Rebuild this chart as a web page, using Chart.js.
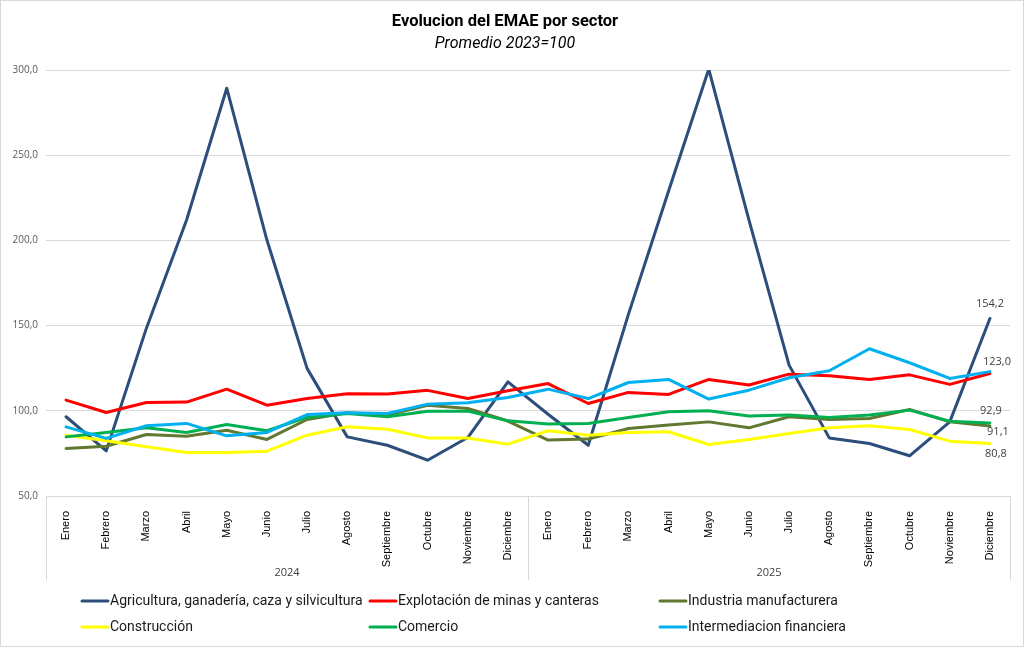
<!DOCTYPE html>
<html lang="es">
<head>
<meta charset="UTF-8">
<title>Evolucion del EMAE por sector</title>
<style>
  html, body { margin: 0; padding: 0; background: #fff; }
  #wrap { width: 1024px; height: 647px; }
</style>
</head>
<body>
<div id="wrap"><canvas id="chart" width="1024" height="647"></canvas></div>

<script src="https://cdn.jsdelivr.net/npm/chart.js"></script>
<script>
// categorias
const meses = ['Enero', 'Febrero', 'Marzo', 'Abril', 'Mayo', 'Junio', 'Julio',
  'Agosto', 'Septiembre', 'Octubre', 'Noviembre', 'Diciembre'];
const anios = ['2024', '2025'];

// series (ene-2024 .. dic-2025)
const agricultura = [96.5, 76.5, 148.5, 212.0, 289.3, 200.2, 124.9, 84.7, 79.8, 71.0, 84.3, 117.0,
  98.0, 79.8, 156.6, 229.0, 300.5, 212.0, 126.8, 84.1, 80.8, 73.6, 93.5, 154.2];
const minas = [106.3, 99.0, 104.9, 105.1, 112.7, 103.3, 107.2, 110.0, 109.8, 112.0, 107.2, 111.8,
  116.0, 104.3, 110.8, 109.6, 118.4, 115.1, 121.5, 120.6, 118.4, 121.1, 115.5, 121.9];
const industria = [77.9, 79.2, 86.1, 85.1, 88.6, 83.2, 94.9, 98.8, 97.5, 103.3, 101.4, 94.0,
  82.8, 83.4, 89.6, 91.6, 93.5, 90.0, 96.5, 94.9, 95.5, 100.8, 93.5, 91.1];
const construccion = [85.7, 82.4, 78.9, 75.5, 75.5, 76.3, 85.7, 90.6, 89.2, 84.1, 84.1, 80.4,
  88.3, 85.7, 87.3, 87.7, 80.2, 83.2, 86.7, 90.0, 91.2, 89.0, 82.2, 80.8];
const comercio = [84.7, 87.3, 90.0, 87.3, 92.0, 88.3, 96.1, 98.4, 96.5, 99.8, 99.8, 94.1,
  92.2, 92.6, 96.1, 99.4, 100.0, 96.9, 97.5, 96.1, 97.5, 100.4, 93.9, 92.9];
const intermediacion = [90.6, 83.8, 91.2, 92.6, 85.3, 87.3, 97.8, 98.8, 98.4, 103.9, 104.7, 107.8,
  112.7, 107.2, 116.6, 118.4, 106.9, 112.1, 119.4, 123.5, 136.4, 128.2, 119.0, 123.0];

// eje y
const yMin = 50, yMax = 300, yPaso = 50;

const etiquetas = anios.flatMap(() => meses);
const fmt = v => v.toFixed(1).replace('.', ',');

// etiqueta del ultimo punto: desplazamiento en px (null = sin etiqueta)
function serie(label, data, color, fin) {
  return {
    label: label, data: data, borderColor: color, backgroundColor: color,
    borderWidth: 3, pointRadius: 0, pointHoverRadius: 0, tension: 0,
    borderJoinStyle: 'round', borderCapStyle: 'round', fin: fin
  };
}

const datasets = [
  serie('Agricultura, ganadería, caza y silvicultura', agricultura, '#2c4e7a', [0, -15]),
  serie('Explotación de minas y canteras', minas, '#ff0000', null),
  serie('Industria manufacturera', industria, '#60782f', [8, 6]),
  serie('Construcción', construccion, '#ffff00', [6, 10]),
  serie('Comercio', comercio, '#00b050', [1, -12]),
  serie('Intermediacion financiera', intermediacion, '#00b0f0', [7, -10])
];
// como en Excel: la ultima serie queda arriba
datasets.forEach((d, i) => d.order = datasets.length - i);

const fondo = {
  id: 'fondo',
  beforeDraw(chart) {
    const c = chart.ctx;
    c.save();
    c.fillStyle = '#fff';
    c.fillRect(0, 0, chart.width, chart.height);
    c.strokeStyle = '#d9d9d9';
    c.lineWidth = 1;
    c.strokeRect(0.5, 0.5, chart.width - 1, chart.height - 1);
    c.restore();
  }
};

// separadores y etiquetas de anio bajo los meses
const grupos = {
  id: 'grupos',
  afterDraw(chart) {
    const c = chart.ctx, x = chart.scales.x, area = chart.chartArea;
    const paso = x.getPixelForValue(1) - x.getPixelForValue(0);
    c.save();
    c.strokeStyle = '#d9d9d9';
    c.lineWidth = 1;
    c.fillStyle = '#404040';
    c.font = '11px "Open Sans", sans-serif';
    c.textAlign = 'center';
    c.textBaseline = 'middle';
    anios.forEach((a, i) => {
      const x0 = x.getPixelForValue(i * 12) - paso / 2;
      const x1 = x.getPixelForValue(i * 12 + 11) + paso / 2;
      [x0, x1].forEach(px => {
        c.beginPath();
        c.moveTo(Math.round(px) + 0.5, area.bottom);
        c.lineTo(Math.round(px) + 0.5, x.bottom);
        c.stroke();
      });
      c.fillText(a, (x0 + x1) / 2, x.bottom - 7);
    });
    c.restore();
  }
};

// valor del ultimo punto
const finales = {
  id: 'finales',
  afterDatasetsDraw(chart) {
    const c = chart.ctx;
    c.save();
    c.fillStyle = '#404040';
    c.font = '11px "Open Sans", sans-serif';
    c.textAlign = 'center';
    c.textBaseline = 'middle';
    chart.data.datasets.forEach((d, i) => {
      if (!d.fin) return;
      const meta = chart.getDatasetMeta(i);
      const p = meta.data[meta.data.length - 1];
      c.fillText(fmt(d.data[d.data.length - 1]), p.x + d.fin[0], p.y + d.fin[1]);
    });
    c.restore();
  }
};

// leyenda en grilla de 3 columnas
const leyenda = {
  id: 'leyenda',
  afterDraw(chart) {
    const c = chart.ctx;
    const cols = [82, 370, 660], filas = [601, 627];
    c.save();
    c.font = '14px Roboto, sans-serif';
    c.textBaseline = 'middle';
    c.textAlign = 'left';
    chart.data.datasets.forEach((d, i) => {
      const x = cols[i % 3], y = filas[Math.floor(i / 3)];
      c.strokeStyle = d.borderColor;
      c.lineWidth = 3;
      c.lineCap = 'round';
      c.beginPath();
      c.moveTo(x, y);
      c.lineTo(x + 26, y);
      c.stroke();
      c.fillStyle = '#1a1a1a';
      c.fillText(d.label, x + 28, y);
    });
    c.restore();
  }
};

new Chart(document.getElementById('chart').getContext('2d'), {
  type: 'line',
  data: { labels: etiquetas, datasets: datasets },
  plugins: [fondo, grupos, finales, leyenda],
  options: {
    responsive: false,
    animation: false,
    devicePixelRatio: 1,
    layout: { padding: { left: 0, right: 14, top: 0, bottom: 67 } },
    plugins: {
      legend: { display: false },
      tooltip: { enabled: false },
      title: {
        display: true,
        text: 'Evolucion del EMAE por sector',
        color: '#000',
        font: { family: 'Roboto', size: 16.5, weight: 'bold' },
        padding: { top: 12, bottom: 3 }
      },
      subtitle: {
        display: true,
        text: 'Promedio 2023=100',
        color: '#000',
        font: { family: 'Roboto', size: 16, style: 'italic' },
        padding: { top: 0, bottom: 16 }
      }
    },
    scales: {
      x: {
        offset: true,
        grid: { display: false },
        border: { display: false },
        ticks: {
          autoSkip: false, minRotation: 90, maxRotation: 90, padding: 7,
          color: '#000', font: { family: 'Liberation Sans', size: 11 }
        },
        afterFit(s) { s.height = 84; }
      },
      y: {
        min: yMin, max: yMax,
        grid: { color: '#d9d9d9', lineWidth: 1, drawTicks: false },
        border: { display: false },
        ticks: {
          stepSize: yPaso, padding: 8, color: '#595959',
          font: { family: 'Open Sans', size: 10 },
          callback: v => fmt(v)
        },
        afterFit(s) { s.width = 46; }
      }
    }
  }
});
</script>
</body>
</html>
